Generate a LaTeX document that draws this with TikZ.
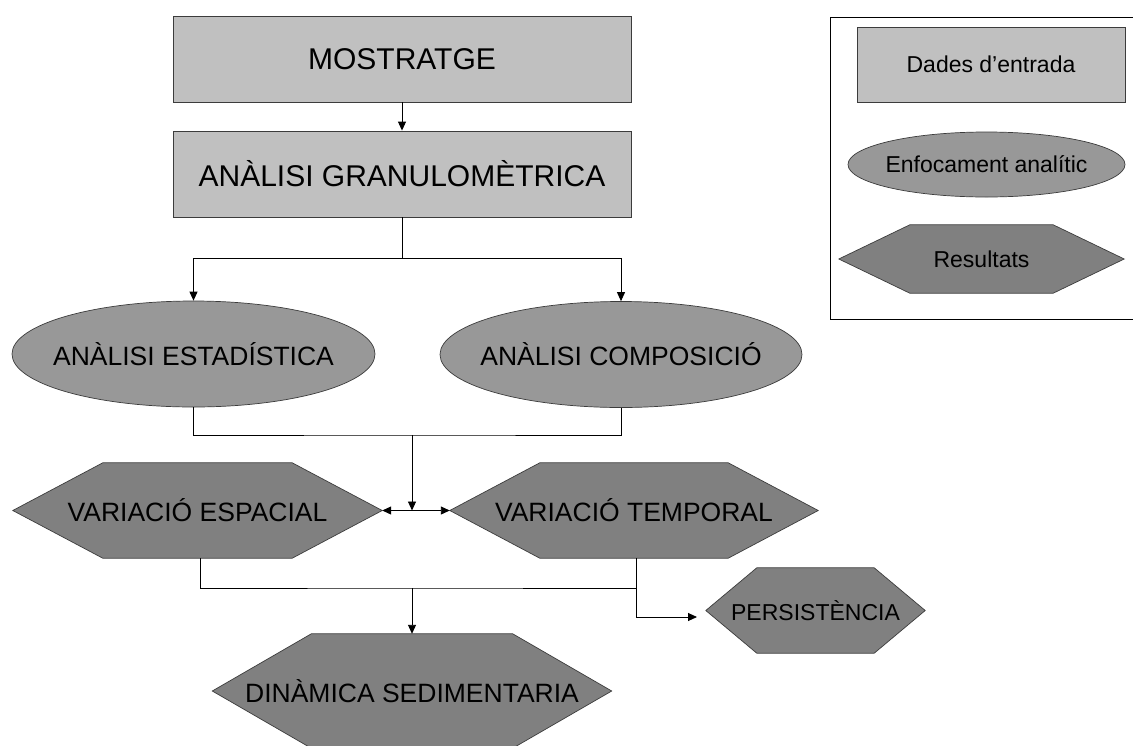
\documentclass[tikz,border=0pt]{standalone}
\usepackage{fontspec}
\setmainfont{Liberation Sans}
\usetikzlibrary{shapes.geometric,arrows.meta}
\pgfdeclarelayer{background}
\pgfdeclarelayer{canvas}
\pgfsetlayers{canvas,background,main}
\definecolor{lightfill}{RGB}{192,192,192}
\definecolor{ellfill}{RGB}{152,152,152}
\definecolor{hexfill}{RGB}{128,128,128}
\definecolor{edge}{RGB}{60,60,60}
\newcommand{\ftbig}{\fontsize{30}{36}\selectfont}
\newcommand{\ftmid}{\fontsize{26.5}{32}\selectfont}
\newcommand{\ftsm}{\fontsize{23}{28}\selectfont}
\newcommand{\hexbg}[2]{%
  \begin{pgfonlayer}{background}
    \path[hexshape] (#1.west) -- ([xshift=#2]#1.north west) -- ([xshift=-#2]#1.north east)
      -- (#1.east) -- ([xshift=-#2]#1.south east) -- ([xshift=#2]#1.south west) -- cycle;
  \end{pgfonlayer}}
\begin{document}
\begin{tikzpicture}[x=1pt,y=-1pt,
  inputbox/.style={rectangle, draw=edge, fill=lightfill, line width=0.9pt, inner sep=0pt},
  analysis/.style={ellipse, draw=edge, fill=ellfill, line width=0.7pt, inner sep=0pt},
  hexnode/.style={rectangle, inner sep=0pt},
  hexshape/.style={draw=edge, fill=hexfill, line width=0.7pt},
  conn/.style={draw=black, line width=0.9pt},
  arr/.style={conn, -{Triangle[length=9pt,width=8pt]}},
  darr/.style={conn, {Triangle[length=9pt,width=8pt]}-{Triangle[length=9pt,width=8pt]}},
  legendbox/.style={rectangle, draw=black, line width=0.8pt, inner sep=0pt}
]
\useasboundingbox (0,0) rectangle (1133,745);
\begin{pgfonlayer}{canvas}
\fill[white] (0,0) rectangle (1133,745);
\end{pgfonlayer}

% legend
\node[legendbox, anchor=north west, minimum width=310pt, minimum height=302pt] (leg) at (830,17) {};
\node[inputbox, minimum width=268pt, minimum height=75pt] (ldades) at (991,64.5) {\ftsm Dades d’entrada};
\node[analysis, minimum width=277pt, minimum height=65pt] (lenf) at (986.5,164.5) {\makebox[0pt]{\ftsm Enfocament analític}};
\node[hexnode, minimum width=285pt, minimum height=68pt] (lres) at (981.5,259) {\ftsm Resultats};
\hexbg{lres}{71pt}

% main flow
\node[inputbox, minimum width=458pt, minimum height=86pt] (most) at (402,59) {\ftbig MOSTRATGE};
\node[inputbox, minimum width=458pt, minimum height=86pt] (gran) at (402,174) {\ftbig ANÀLISI GRANULOMÈTRICA};

\node[analysis, minimum width=363pt, minimum height=106pt] (est) at (193.5,354) {\makebox[0pt]{\ftmid ANÀLISI ESTADÍSTICA}};
\node[analysis, minimum width=362pt, minimum height=106pt] (comp) at (621,354.5) {\makebox[0pt]{\ftmid ANÀLISI COMPOSICIÓ}};

\node[hexnode, minimum width=369pt, minimum height=95pt] (esp) at (197.5,510.5) {\ftmid VARIACIÓ ESPACIAL};
\hexbg{esp}{90pt}
\node[hexnode, minimum width=368pt, minimum height=95pt] (temp) at (634,510.5) {\ftmid VARIACIÓ TEMPORAL};
\hexbg{temp}{90pt}

\node[hexnode, minimum width=219pt, minimum height=85pt] (pers) at (815.5,610.5) {\ftsm PERSISTÈNCIA};
\hexbg{pers}{51pt}
\node[hexnode, minimum width=399pt, minimum height=114pt] (din) at (412,691) {\ftmid DINÀMICA SEDIMENTARIA};
\hexbg{din}{99pt}

% junction coordinates
\coordinate (split1) at (402,258);
\coordinate (j2) at (412,435);
\coordinate (mid) at (412,510.5);
\coordinate (j3) at (412,588);
\coordinate (pin) at (697,617);

% connectors
\draw[arr] (most.south) -- (gran.north);
\draw[conn] (gran.south) -- (split1);
\draw[arr] (split1) -| (est.north);
\draw[arr] (split1) -| (comp.north);
\draw[conn] (est.south) |- (j2) -| (comp.south);
\draw[arr] (j2) -- (mid);
\draw[darr] (esp.east) -- (temp.west);
\draw[conn] ([xshift=2.5pt]esp.south) |- (j3) -| ([xshift=2pt]temp.south);
\draw[arr] (j3) -- (din.north);
\draw[arr] ([xshift=2pt]temp.south) |- (pin);
\end{tikzpicture}
\end{document}
